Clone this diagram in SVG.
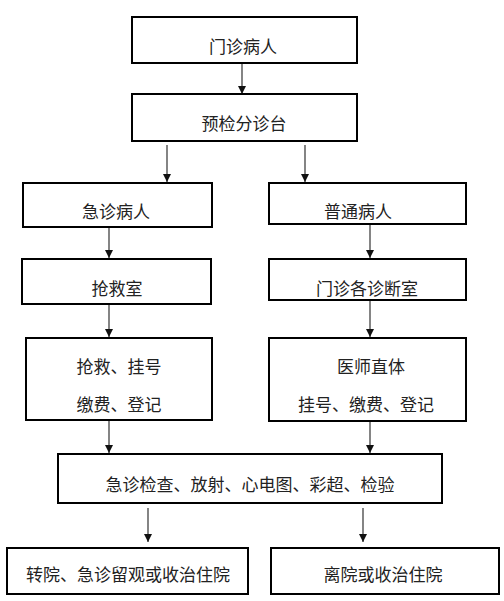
<svg xmlns="http://www.w3.org/2000/svg" width="504" height="601" viewBox="0 0 504 601">
<style>
.box{fill:#fff;stroke:#000;stroke-width:2}
.t{font-family:"Noto Sans CJK SC","Noto Sans CJK JP",sans-serif;font-size:17px;fill:#222;text-anchor:middle;dominant-baseline:central}
.c{stroke:#333;stroke-width:1.2;fill:none;marker-end:url(#ah)}
</style>
<defs>
<marker id="ah" markerUnits="userSpaceOnUse" markerWidth="8" markerHeight="8" refX="8" refY="4" orient="auto">
<path d="M0,0 L8,4 L0,8 Z" fill="#111"/>
</marker>
</defs>
<rect width="504" height="601" fill="#fff"/>
<g id="connectors">
<line class="c" x1="242" y1="63" x2="242" y2="94"/>
<line class="c" x1="167" y1="145" x2="167" y2="182"/>
<line class="c" x1="305" y1="145" x2="305" y2="182"/>
<line class="c" x1="109" y1="227" x2="109" y2="258"/>
<line class="c" x1="370" y1="224" x2="370" y2="258"/>
<line class="c" x1="109" y1="304" x2="109" y2="337"/>
<line class="c" x1="370" y1="300" x2="370" y2="337"/>
<line class="c" x1="109" y1="420" x2="109" y2="453"/>
<line class="c" x1="370" y1="421" x2="370" y2="453"/>
<line class="c" x1="148" y1="508" x2="148" y2="542"/>
<line class="c" x1="363" y1="508" x2="363" y2="542"/>
</g>
<g id="n1"><rect class="box" x="132" y="17" width="225" height="46"/><text class="t" x="243" y="45">门诊病人</text></g>
<g id="n2"><rect class="box" x="132" y="94" width="225" height="47"/><text class="t" x="244" y="122">预检分诊台</text></g>
<g id="n3"><rect class="box" x="23" y="183" width="189" height="44"/><text class="t" x="116" y="210">急诊病人</text></g>
<g id="n4"><rect class="box" x="269" y="183" width="197" height="41"/><text class="t" x="358" y="210">普通病人</text></g>
<g id="n5"><rect class="box" x="22" y="259" width="189" height="45"/><text class="t" x="117" y="287">抢救室</text></g>
<g id="n6"><rect class="box" x="269" y="259" width="197" height="41"/><text class="t" x="367" y="287">门诊各诊断室</text></g>
<g id="n7"><rect class="box" x="26" y="338" width="186" height="82"/><text class="t" x="119" y="365">抢救、挂号</text><text class="t" x="119" y="403">缴费、登记</text></g>
<g id="n8"><rect class="box" x="269" y="338" width="197" height="83"/><text class="t" x="371" y="365">医师直体</text><text class="t" x="366" y="403">挂号、缴费、登记</text></g>
<g id="n9"><rect class="box" x="58" y="454" width="384" height="49"/><text class="t" x="250" y="483">急诊检查、放射、心电图、彩超、检验</text></g>
<g id="n10"><rect class="box" x="7" y="548" width="241" height="46"/><text class="t" x="128" y="573">转院、急诊留观或收治住院</text></g>
<g id="n11"><rect class="box" x="271" y="548" width="228" height="46"/><text class="t" x="383" y="573">离院或收治住院</text></g>
</svg>
